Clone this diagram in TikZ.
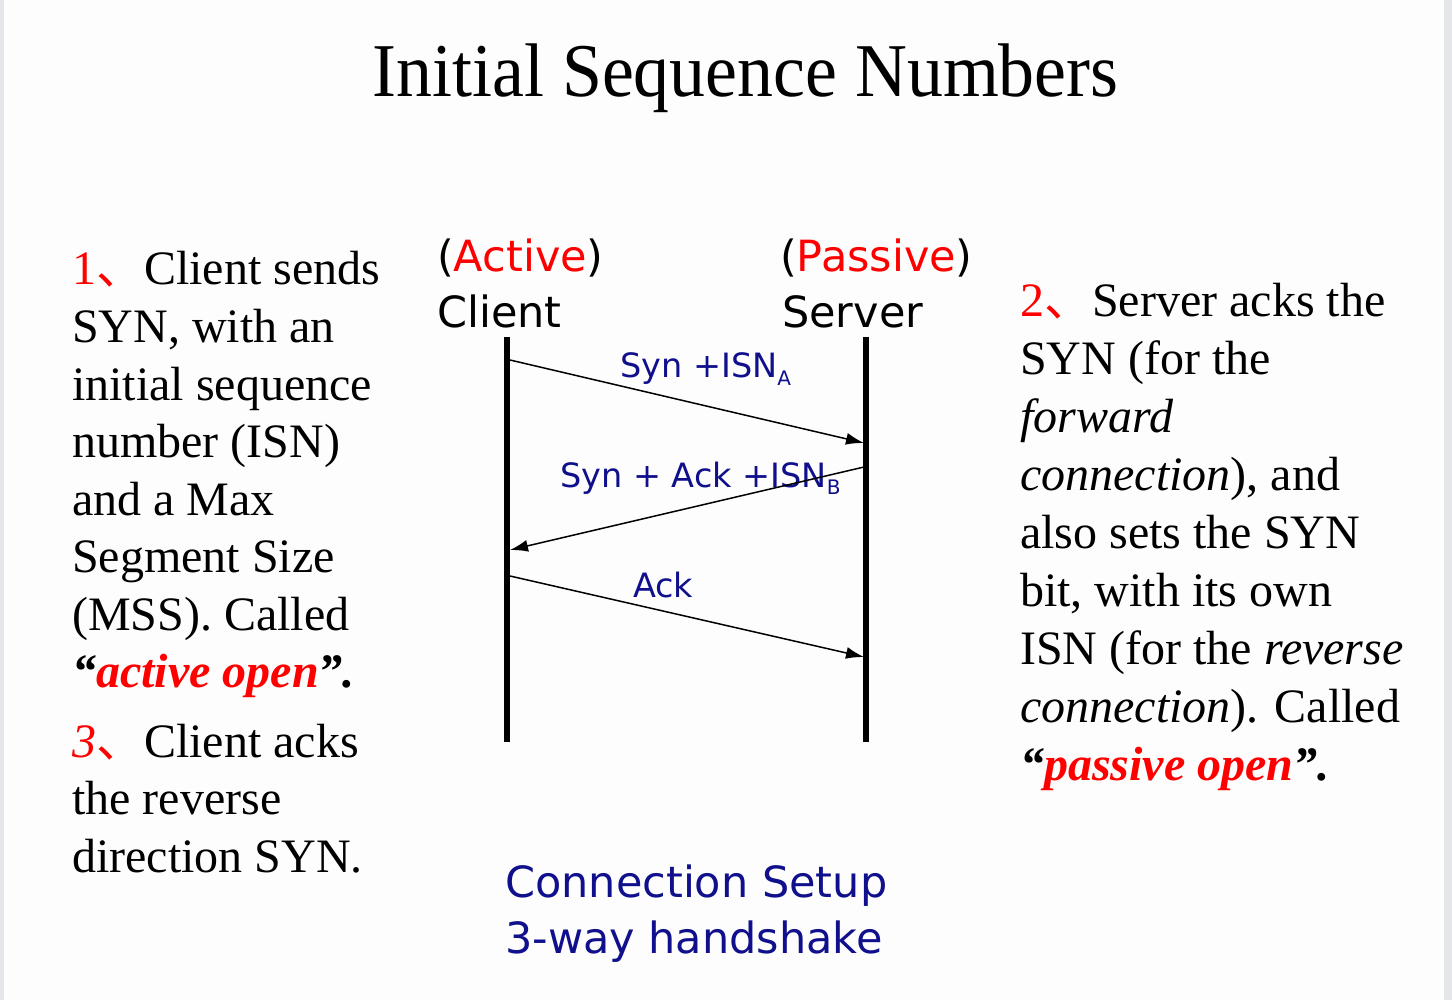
\documentclass[tikz,border=0pt]{standalone}
\usepackage{fontspec}
\setmainfont{Liberation Serif}
\newfontfamily\hand{DejaVu Sans}
\newfontfamily\cjk{Noto Sans CJK SC}
\usetikzlibrary{arrows.meta}
\definecolor{navy}{HTML}{10108C}
\definecolor{side}{HTML}{E4E6EA}
\definecolor{paper}{HTML}{FDFDFD}
\newcommand\dun{{\cjk 、}}
\begin{document}
\begin{tikzpicture}[x=1pt,y=-1pt,
  txt/.style={anchor=base west,inner sep=0pt,font=\fontsize{48}{57.5}\selectfont},
  hand/.style={anchor=base west,inner sep=0pt,font=\hand\fontsize{43}{50}\selectfont},
  msg/.style={anchor=base west,inner sep=0pt,text=navy,font=\hand\fontsize{33.5}{38}\selectfont},
  life/.style={line width=6pt},
  pkt/.style={line width=1.5pt,-{Latex[length=18pt,width=12pt]}}]
% page
\fill[paper] (0,0) rectangle (1452,1000);
\fill[side] (0,0) rectangle (4,1000);\fill[side] (1444,0) rectangle (1452,1000);
\node[anchor=base,inner sep=0pt,font=\fontsize{76}{80}\selectfont] (title) at (745.5,97) {\scalebox{0.945}[1]{Initial Sequence Numbers}};
% left column
\foreach \t [count=\i] in {{\textcolor{red}{1\dun}Client sends},{SYN, with an},{initial sequence},{number (ISN)},{and a Max},{Segment Size},{(MSS). Called},{\textbf{\textit{“\textcolor{red}{active open}”.}}}}{\node[txt] (l\i) at (72,{285+(\i-1)*57.5}) {\t};}
\foreach \t [count=\i] in {{\textcolor{red}{\textit{3}\dun}Client acks},{the reverse},{direction SYN.}}{\node[txt] (k\i) at (72,{757+(\i-1)*57.5}) {\t};}
% right column
\foreach \t [count=\i] in {{\textcolor{red}{2\dun}Server acks the},{SYN (for the},{\textit{forward}},{\textit{connection}), and},{also sets the SYN},{bit, with its own},{ISN (for the \textit{reverse}},{\textit{connection}). Called},{\textbf{\textit{“\textcolor{red}{passive open}”.}}}}{\node[txt] (r\i) at (1020,{317+(\i-1)*57.9}) {\t};}
% hosts
\node[hand] (act) at (437,272) {(\textcolor{red}{Active})};
\node[hand] (cli) at (437,328) {Client};
\node[hand] (pas) at (780,272) {(\textcolor{red}{Passive})};
\node[hand] (srv) at (782,328) {Server};
\coordinate (ct) at (507,337);\coordinate (cb) at (507,742);
\coordinate (st) at (866,337);\coordinate (sb) at (866,742);
\draw[life] (ct)--(cb);\draw[life] (st)--(sb);
% segments
\node[msg] (m1) at (620,378) {Syn +ISN\raisebox{-7pt}{\fontsize{20}{22}\selectfont A}};
\node[msg] (m2) at (560,487) {Syn + Ack +ISN\raisebox{-7pt}{\fontsize{20}{22}\selectfont B}};
\node[msg] (m3) at (633,597) {Ack};
\coordinate (c1) at (510,360);\coordinate (s1) at (864,443);
\coordinate (s2) at (864,467);\coordinate (c2) at (510,550);
\coordinate (c3) at (510,576);\coordinate (s3) at (864,657);
\draw[pkt] (c1)--(s1);\draw[pkt] (s2)--(c2);\draw[pkt] (c3)--(s3);
% caption
\node[hand,text=navy] (cap1) at (505,897) {Connection Setup};
\node[hand,text=navy] (cap2) at (505,953) {3-way handshake};
\end{tikzpicture}
\end{document}
